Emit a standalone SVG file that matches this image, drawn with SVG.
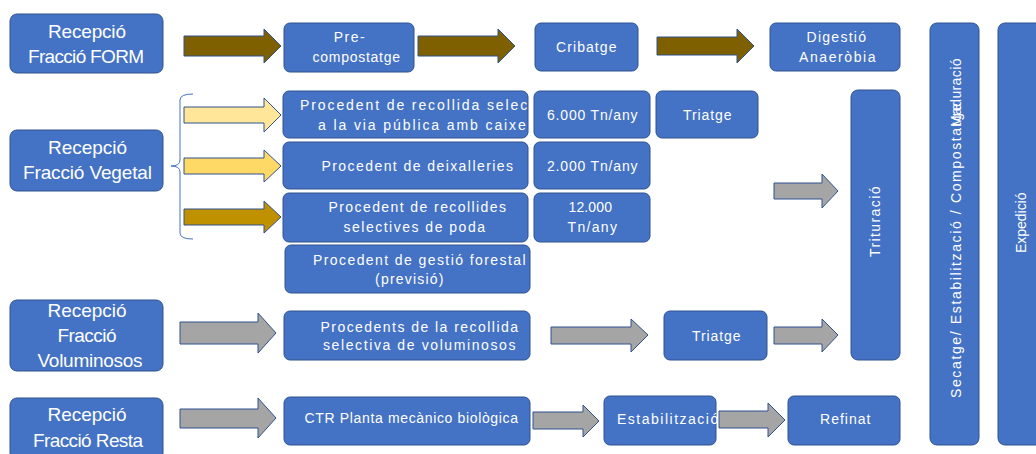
<svg xmlns="http://www.w3.org/2000/svg" width="1036" height="454" viewBox="0 0 1036 454">
<style>
.b{fill:#4472C4;stroke:#2F528F;stroke-width:1}
.t{fill:#fff;font-family:"Liberation Sans",Arial,sans-serif;font-size:14px;letter-spacing:1.5px;text-anchor:middle}
.L{font-size:19px;letter-spacing:0}
.s{text-anchor:start}
.a{stroke:#2F528F;stroke-width:1}
.br{fill:#7F6000}.y1{fill:#FFE699}.y2{fill:#FFD966}.y3{fill:#BF9000}.g{fill:#A5A5A5}
</style>
<defs><clipPath id="cp1"><rect x="283" y="91" width="245" height="47" rx="6"/></clipPath></defs>
<rect width="1036" height="454" fill="#fff"/>
<g id="n-form"><rect class="b" x="10" y="14" width="153" height="59" rx="7"/>
<text class="t L" x="87" y="38" textLength="78" lengthAdjust="spacing">Recepció</text>
<text class="t L" x="86" y="63" textLength="116" lengthAdjust="spacing">Fracció FORM</text></g>
<g id="n-pre"><rect class="b" x="284" y="23" width="130" height="49" rx="6"/>
<text class="t" x="350" y="42">Pre-</text>
<text class="t" x="357" y="62" textLength="89" lengthAdjust="spacing">compostatge</text></g>
<g id="n-crib"><rect class="b" x="535" y="23" width="103" height="48" rx="6"/>
<text class="t" x="587" y="52" textLength="62" lengthAdjust="spacing">Cribatge</text></g>
<g id="n-dig"><rect class="b" x="770" y="23" width="130" height="48" rx="6"/>
<text class="t" x="837" y="42" textLength="61" lengthAdjust="spacing">Digestió</text>
<text class="t" x="838" y="62" textLength="78" lengthAdjust="spacing">Anaeròbia</text></g>
<g id="n-sec"><rect class="b" x="930" y="23" width="49" height="422" rx="7"/>
<text class="t s" transform="translate(961,398) rotate(-90)" textLength="296" lengthAdjust="spacing">Secatge/ Estabilització / Compostatge</text>
<text class="t s" transform="translate(961,127) rotate(-90)" textLength="70" lengthAdjust="spacing">Maduració</text></g>
<g id="n-exp"><rect class="b" x="998" y="23" width="50" height="422" rx="7"/>
<text class="t" transform="translate(1026,222) rotate(-90)" textLength="62" lengthAdjust="spacing">Expedició</text></g>
<g id="n-veg"><rect class="b" x="10" y="130" width="153" height="61" rx="7"/>
<text class="t L" x="87.5" y="154" textLength="79" lengthAdjust="spacing">Recepció</text>
<text class="t L" x="87.5" y="179" textLength="129" lengthAdjust="spacing">Fracció Vegetal</text></g>
<g id="n-p1"><rect class="b" x="283" y="91" width="245" height="47" rx="6"/>
<g clip-path="url(#cp1)">
<text class="t s" x="300" y="110" style="letter-spacing:1.9px">Procedent de recollida selectiva</text>
<text class="t s" x="318" y="130" style="letter-spacing:1.9px">a la via pública amb caixes</text></g></g>
<g id="n-p2"><rect class="b" x="283" y="142" width="245" height="47" rx="6"/>
<text class="t" x="418" y="171" textLength="193" lengthAdjust="spacing">Procedent de deixalleries</text></g>
<g id="n-p3"><rect class="b" x="283" y="193" width="245" height="49" rx="6"/>
<text class="t" x="418" y="212" textLength="179" lengthAdjust="spacing">Procedent de recollides</text>
<text class="t" x="415" y="232" textLength="143" lengthAdjust="spacing">selectives de poda</text></g>
<g id="n-t1"><rect class="b" x="534" y="91" width="116" height="47" rx="6"/>
<text class="t" x="593" y="120" textLength="92" lengthAdjust="spacing">6.000 Tn/any</text></g>
<g id="n-t2"><rect class="b" x="534" y="142" width="116" height="47" rx="6"/>
<text class="t" x="593" y="171" textLength="92" lengthAdjust="spacing">2.000 Tn/any</text></g>
<g id="n-t3"><rect class="b" x="534" y="193" width="116" height="49" rx="6"/>
<text class="t" x="591" y="212" textLength="45" lengthAdjust="spacing">12.000</text>
<text class="t" x="593" y="232" textLength="51" lengthAdjust="spacing">Tn/any</text></g>
<g id="n-tri1"><rect class="b" x="656" y="91" width="102" height="47" rx="6"/>
<text class="t" x="708" y="120" textLength="50" lengthAdjust="spacing">Triatge</text></g>
<g id="n-p4"><rect class="b" x="285" y="245" width="245" height="48" rx="6"/>
<text class="t" x="420" y="265" textLength="214" lengthAdjust="spacing">Procedent de gestió forestal</text>
<text class="t" x="410" y="284" textLength="70" lengthAdjust="spacing">(previsió)</text></g>
<g id="n-trit"><rect class="b" x="851" y="90" width="49" height="270" rx="7"/>
<text class="t" transform="translate(880,221) rotate(-90)" textLength="72" lengthAdjust="spacing">Trituració</text></g>
<g id="n-vol"><rect class="b" x="10" y="300" width="153" height="71" rx="7"/>
<text class="t L" x="87" y="317" textLength="79" lengthAdjust="spacing">Recepció</text>
<text class="t L" x="87" y="342" textLength="59" lengthAdjust="spacing">Fracció</text>
<text class="t L" x="90" y="367" textLength="105" lengthAdjust="spacing">Voluminosos</text></g>
<g id="n-pv"><rect class="b" x="284" y="311" width="246" height="49" rx="6"/>
<text class="t" x="420" y="332" textLength="199" lengthAdjust="spacing">Procedents de la recollida</text>
<text class="t" x="420" y="350" textLength="194" lengthAdjust="spacing">selectiva de voluminosos</text></g>
<g id="n-tri2"><rect class="b" x="664" y="311" width="103" height="49" rx="6"/>
<text class="t" x="717" y="341" textLength="50" lengthAdjust="spacing">Triatge</text></g>
<g id="n-resta"><rect class="b" x="10" y="398" width="153" height="62" rx="7"/>
<text class="t L" x="87" y="421" textLength="79" lengthAdjust="spacing">Recepció</text>
<text class="t L" x="88" y="447" textLength="110" lengthAdjust="spacing">Fracció Resta</text></g>
<g id="n-ctr"><rect class="b" x="284" y="397" width="246" height="48" rx="6"/>
<text class="t" x="412" y="423" textLength="215" lengthAdjust="spacing">CTR Planta mecànico biològica</text></g>
<g id="n-est"><rect class="b" x="604" y="396" width="112" height="49" rx="6"/>
<text class="t s" x="617" y="424">Estabilització</text></g>
<g id="n-ref"><rect class="b" x="788" y="396" width="112" height="49" rx="6"/>
<text class="t" x="846" y="424" textLength="52" lengthAdjust="spacing">Refinat</text></g>
<g id="connectors">
<path d="M193,94 Q180,94 180,100 L180,160 Q180,166 171,166 Q180,166 180,172 L180,233 Q180,239 193,239" fill="none" stroke="#4472C4" stroke-width="1"/>
<path class="a br" d="M184,36 L264,36 L264,29 L281,46 L264,63 L264,56 L184,56 Z"/>
<path class="a br" d="M418,36 L498,36 L498,29 L515,46 L498,63 L498,56 L418,56 Z"/>
<path class="a br" d="M657,37 L737,37 L737,29 L754,46 L737,63 L737,55 L657,55 Z"/>
<path class="a y1" d="M184,107 L264,107 L264,98 L281,115 L264,132 L264,123 L184,123 Z"/>
<path class="a y2" d="M184,158 L264,158 L264,150 L281,166 L264,182 L264,174 L184,174 Z"/>
<path class="a y3" d="M184,209 L264,209 L264,201 L281,217 L264,233 L264,225 L184,225 Z"/>
<path class="a g" d="M774,183 L822,183 L822,174 L838,191 L822,208 L822,199 L774,199 Z"/>
<path class="a g" d="M180,322 L258,322 L258,313 L276,333 L258,353 L258,344 L180,344 Z"/>
<path class="a g" d="M551,327 L631,327 L631,319 L648,335 L631,352 L631,344 L551,344 Z"/>
<path class="a g" d="M774,327 L822,327 L822,319 L838,335 L822,352 L822,344 L774,344 Z"/>
<path class="a g" d="M180,409 L258,409 L258,398 L276,418 L258,438 L258,428 L180,428 Z"/>
<path class="a g" d="M533,412 L583,412 L583,405 L599,421 L583,437 L583,429 L533,429 Z"/>
<path class="a g" d="M719,411 L768,411 L768,403 L785,420 L768,437 L768,428 L719,428 Z"/>
</g>
</svg>
